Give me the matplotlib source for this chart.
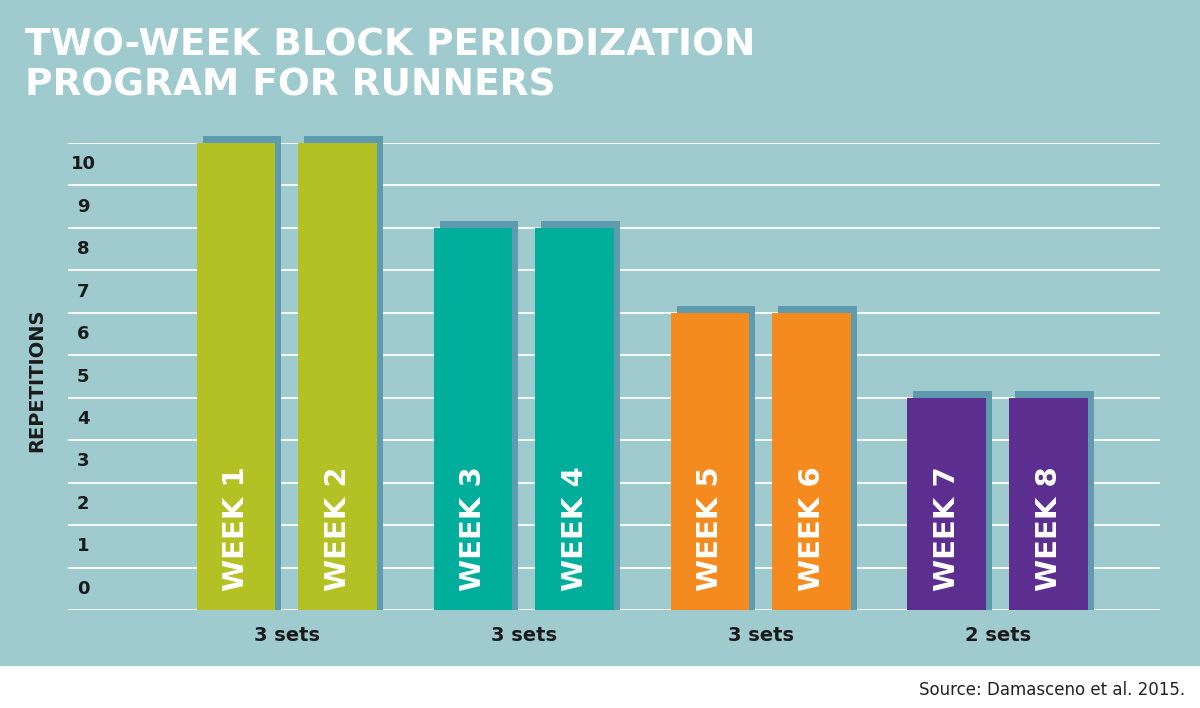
import numpy as np
import matplotlib.pyplot as plt

weeks = ['WEEK 1', 'WEEK 2', 'WEEK 3', 'WEEK 4', 'WEEK 5', 'WEEK 6', 'WEEK 7', 'WEEK 8']
reps = [10, 10, 8, 8, 6, 6, 4, 4]
group_labels = ['3 sets', '3 sets', '3 sets', '2 sets']
tick_labels = [str(i) for i in range(11)]
colors = ['#B3C124', '#B3C124', '#00AE9B', '#00AE9B', '#F58A1F', '#F58A1F', '#5B2E8F', '#5B2E8F']

BG = '#9FCBCE'
SHADOW = '#5F9BAE'

fig = plt.figure(figsize=(12, 7.08), dpi=100)
fig.patch.set_facecolor('white')
fig.add_artist(plt.Rectangle((0, 1 - 665 / 708), 1, 665 / 708, transform=fig.transFigure,
                             color=BG, zorder=0))

# axes spans the gridlines: 68..1160 px wide, 143..610 px tall
ax = fig.add_axes([68 / 1200, 1 - 610 / 708, (1160 - 68) / 1200, (610 - 143) / 708])
ax.set_facecolor('none')
ax.set_xlim(-0.924, 3.684)
ax.set_ylim(0, 11)
for y in range(12):
    ax.axhline(y, color='white', lw=1.3, zorder=1)
for s in ax.spines.values():
    s.set_visible(False)
ax.set_xticks([])
ax.set_yticks([])

# the chart draws each value band between gridlines: bar top sits one band above the value
w = 0.333
off = 0.215
dx = 6 / 237
dy = 0.17
for i, (lab, r, c) in enumerate(zip(weeks, reps, colors)):
    g = i // 2
    x = g + (-off if i % 2 == 0 else off)
    ax.bar(x + dx, r + 1 + dy, width=w, color=SHADOW, zorder=2, clip_on=False)
    ax.bar(x, r + 1, width=w, color=c, zorder=3)
    ax.text(x, 0.45, lab, rotation=90, ha='center', va='bottom', color='white',
            fontsize=21, fontweight='heavy', family='DejaVu Sans', zorder=4)

for i, t in enumerate(tick_labels):
    ax.text(-0.86, i + 0.5, t, ha='center', va='center', fontsize=13,
            fontweight='bold', color='#1a1a1a')

for g, t in enumerate(group_labels):
    ax.text(g, -0.6, t, ha='center', va='center', fontsize=14,
            fontweight='bold', color='#1a1a1a')

fig.text(37 / 1200, 1 - 380 / 708, 'REPETITIONS', rotation=90, ha='center', va='center',
         fontsize=14, fontweight='bold', color='#1a1a1a')

fig.text(25 / 1200, 1 - 46 / 708, 'TWO-WEEK BLOCK PERIODIZATION', ha='left', va='center',
         fontsize=27, fontweight='heavy', color='white', family='DejaVu Sans')
fig.text(25 / 1200, 1 - 86 / 708, 'PROGRAM FOR RUNNERS', ha='left', va='center',
         fontsize=27, fontweight='heavy', color='white', family='DejaVu Sans')

fig.text(1185 / 1200, 1 - 690 / 708, 'Source: Damasceno et al. 2015.', ha='right', va='center',
         fontsize=12, color='#222222')

fig.savefig('out.png', dpi=100, facecolor=fig.get_facecolor())
